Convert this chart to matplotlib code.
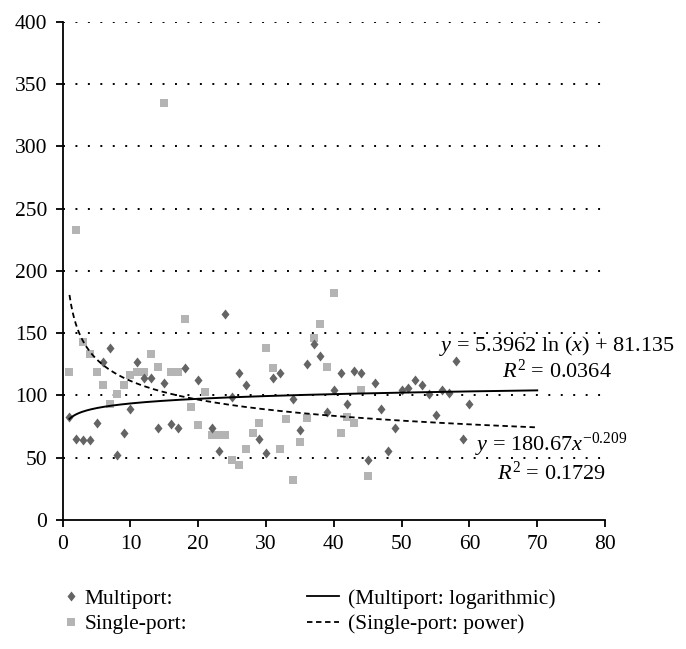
import numpy as np
import matplotlib.pyplot as plt
from matplotlib.lines import Line2D

plt.rcParams['font.family'] = ['Liberation Serif', 'DejaVu Serif']
plt.rcParams['mathtext.fontset'] = 'custom'
plt.rcParams['mathtext.rm'] = 'Liberation Serif'
plt.rcParams['mathtext.it'] = 'Liberation Serif:italic'

# Multiport data (diamonds)
multi_x = [1, 2, 3, 4, 5, 6, 7, 8, 9, 10, 11, 12, 13, 14, 15, 16, 17, 18, 20,
           22, 23, 24, 25, 26, 27, 29, 30, 31, 32, 34, 35, 36, 37, 38, 39, 40,
           41, 42, 43, 44, 45, 46, 47, 48, 49, 50, 51, 52, 53, 54, 55, 56, 57,
           58, 59, 60]
multi_y = [83, 65, 64, 64, 78, 127, 138, 52, 70, 89, 127, 114, 114, 74, 110, 77,
           74, 122, 112, 74, 55, 165, 99, 118, 108, 65, 54, 114, 118, 97, 72,
           125, 141, 132, 87, 104, 118, 93, 120, 118, 48, 110, 89, 55, 74, 104,
           106, 112, 108, 101, 84, 104, 102, 128, 65, 93]

# Single-port data (squares)
single_x = list(range(1, 46))
single_y = [119, 233, 143, 133, 119, 108, 93, 101, 108, 116, 119, 119, 133, 123,
            335, 119, 119, 161, 91, 76, 103, 68, 68, 68, 48, 44, 57, 70, 78, 138,
            122, 57, 81, 32, 63, 82, 146, 157, 123, 182, 70, 83, 78, 104, 35]

# trendline coefficients (from the chart labels)
log_a, log_b = 5.3962, 81.135
pow_a, pow_b = 180.67, -0.209
trend_x = np.linspace(1, 70, 300)

fig = plt.figure(figsize=(6.86, 6.49), dpi=100)
ax = fig.add_axes([62.7 / 686, 1 - 520 / 649, (605 - 62.7) / 686, (520 - 21.7) / 649])

diamond = [(0, 1), (0.8, 0), (0, -1), (-0.8, 0), (0, 1)]
ax.plot(single_x, single_y, 's', color='#b4b4b4', ms=6, mew=0, zorder=3)
ax.plot(multi_x, multi_y, marker=diamond, ls='none', color='#646464', ms=7.2,
        mew=0, zorder=4)
ax.plot(trend_x, log_a * np.log(trend_x) + log_b, color='black', lw=1.4, zorder=5)
ax.plot(trend_x, pow_a * trend_x ** pow_b, color='black', lw=1.3,
        ls=(0, (3, 2)), zorder=5)

ax.set_xlim(0, 80)
ax.set_ylim(0, 400)
ax.set_xticks(range(0, 81, 10))
ax.set_yticks(range(0, 401, 50))
for yv in range(50, 401, 50):
    ax.axhline(yv, color='black', lw=1.4, ls=(0, (1, 5.4)), zorder=1)

for s in ['top', 'right']:
    ax.spines[s].set_visible(False)
ax.spines['left'].set_linewidth(1.3)
ax.spines['bottom'].set_linewidth(1.3)
ax.tick_params(direction='out', length=5, width=1.3, labelsize=15.5, pad=6)

# equation labels, positions given in pixels from the top-left
labels = [(557, 346, r'$y$ = 5.3962 ln ($x$) + 81.135'),
          (557, 371, r'$R^2$ = 0.0364'),
          (551, 445, r'$y$ = 180.67$x^{-0.209}$'),
          (551, 473, r'$R^2$ = 0.1729')]
for px, py, s in labels:
    fig.text(px / 686, 1 - py / 649, s, ha='center', va='center', fontsize=16)

h1 = [Line2D([], [], marker=diamond, ls='none', color='#646464', ms=7.2, mew=0),
      Line2D([], [], marker='s', ls='none', color='#b4b4b4', ms=6, mew=0)]
h2 = [Line2D([], [], color='black', lw=1.3),
      Line2D([], [], color='black', lw=1.3, ls=(0, (3, 2)))]
fig.legend(h1, ['Multiport:', 'Single-port:'], loc='upper left',
           bbox_to_anchor=(52 / 686, 1 - 578 / 649), frameon=False,
           fontsize=15.5, handlelength=0.8, handletextpad=0.2,
           borderpad=0, labelspacing=0.25)
fig.legend(h2, ['(Multiport: logarithmic)', '(Single-port: power)'],
           loc='upper left', bbox_to_anchor=(296 / 686, 1 - 578 / 649),
           frameon=False, fontsize=15.5, handlelength=1.5,
           handletextpad=0.4, borderpad=0, labelspacing=0.25)

fig.savefig('out.png', dpi=100)
